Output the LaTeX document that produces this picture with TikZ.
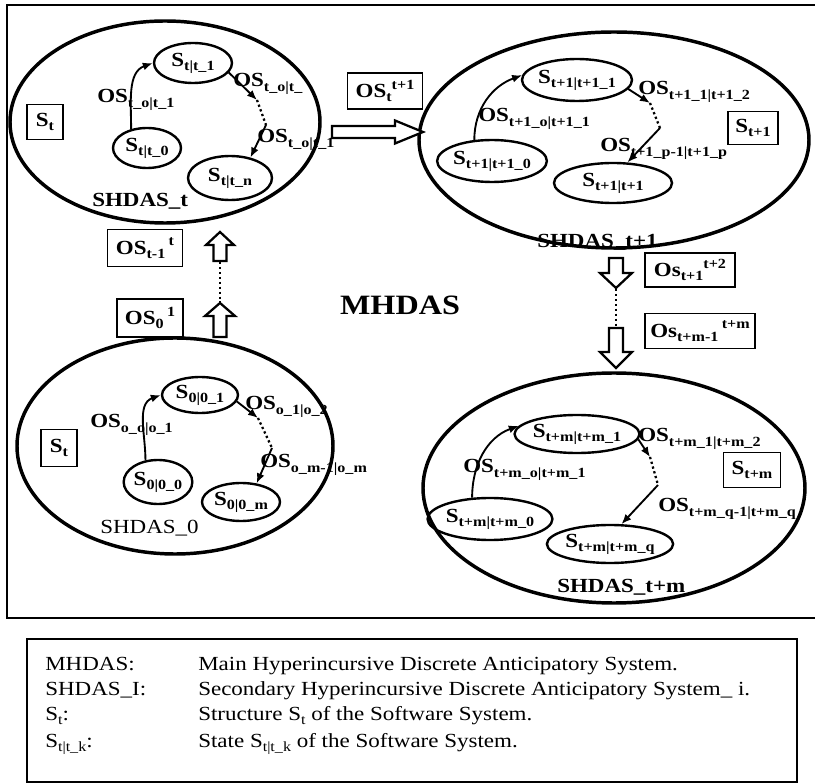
\documentclass[tikz,border=0pt]{standalone}
\usepackage{fontspec}
\setmainfont{Liberation Serif}[FakeStretch=1.15]
\usetikzlibrary{shapes.geometric,arrows.meta}

\newcommand{\lo}[1]{\raisebox{-0.45ex}{\fontsize{10.5}{10.5}\selectfont #1}}
\newcommand{\hi}[1]{\raisebox{0.95ex}{\fontsize{10.5}{10.5}\selectfont #1}}

\begin{document}
\begin{tikzpicture}[
  x=0.75pt, y=-0.75pt,
  font=\fontsize{15}{18}\selectfont\bfseries,
  sys/.style={draw, ellipse, line width=2.6pt, inner sep=0pt},
  st/.style={draw, ellipse, line width=1.8pt, inner sep=0pt},
  tag/.style={draw, line width=1pt, inner sep=0pt},
  lbl/.style={anchor=base west, inner sep=0pt},
  link/.style={line width=1.4pt, -{Latex[length=7.5pt,width=6pt]}},
  dotline/.style={line width=1.7pt, dotted},
  hollow/.style={draw, line width=1.7pt, fill=white, line join=miter},
  legend/.style={anchor=base west, inner sep=0pt, font=\fontsize{15}{19}\selectfont},
]
  \useasboundingbox (0,0) rectangle (815,784);
  \draw[line width=1.3pt] (815,5) -- (7,5) -- (7,618) -- (815,618);

  % SHDAS_t
  \node[sys, minimum width=232.5pt, minimum height=151.5pt] (sA) at (165,122) {};
  \node[tag, minimum width=27pt, minimum height=26pt] (tA) at (45,122) {S\lo{t}};
  \node[st, minimum width=58.5pt, minimum height=30pt] (a1) at (193,63) {S\lo{t|t\_1}};
  \node[st, minimum width=51pt, minimum height=30pt] (a0) at (147,148) {S\lo{t|t\_0}};
  \node[st, minimum width=63pt, minimum height=33pt] (an) at (230,178) {S\lo{t|t\_n}};
  \coordinate (ad1) at (257,100);
  \coordinate (ad2) at (266,125);
  \draw[link] (a0.130) to[out=90,in=200] (a1.west);
  \draw[link] (a1.-15) -- (ad1);
  \draw[dotline] (ad1) -- (ad2);
  \draw[link] (ad2) -- (an.45);
  \node[lbl] (la1) at (97,103) {OS\lo{t\_o|t\_1}};
  \node[lbl] (la2) at (233,87) {OS\lo{t\_o|t\_}};
  \node[lbl] (la3) at (257,143) {OS\lo{t\_o|t\_1}};
  \node[lbl] (nA) at (92,207) {SHDAS\_t};

  % SHDAS_t+1
  \node[sys, minimum width=292.5pt, minimum height=162pt] (sB) at (614,140) {};
  \node[tag, minimum width=37.5pt, minimum height=25pt] (tB) at (753,128) {S\lo{t+1}};
  \node[st, minimum width=82.5pt, minimum height=31.5pt] (b1) at (577,80) {S\lo{t+1|t+1\_1}};
  \node[st, minimum width=76.5pt, minimum height=31.5pt] (b0) at (492,161) {S\lo{t+1|t+1\_0}};
  \node[st, minimum width=88.5pt, minimum height=30pt] (bn) at (613,183) {S\lo{t+1|t+1}};
  \coordinate (bd1) at (650,103);
  \coordinate (bd2) at (660,128);
  \draw[link] (b0.130) to[out=90,in=200] (b1.175);
  \draw[link] (b1.-10) -- (bd1);
  \draw[dotline] (bd1) -- (bd2);
  \draw[link] (bd2) -- (bn.55);
  \node[lbl] (lb1) at (478,122) {OS\lo{t+1\_o|t+1\_1}};
  \node[lbl] (lb2) at (638,95) {OS\lo{t+1\_1|t+1\_2}};
  \node[lbl] (lb3) at (600,152) {OS\lo{t+1\_p-1|t+1\_p}};
  \node[lbl] (nB) at (537,248) {SHDAS\_t+1};

  % step t -> t+1
  \node[tag, minimum width=56pt, minimum height=27pt] (oAB) at (385,91) {OS\lo{t}\hi{t+1}};
  \draw[hollow] (332,126) -- (395,126) -- (395,120.5) -- (423,132) -- (395,143.5) -- (395,138) -- (332,138) -- cycle;

  % SHDAS_0
  \node[sys, minimum width=237pt, minimum height=162pt] (sC) at (175,446) {};
  \node[tag, minimum width=27pt, minimum height=27.5pt] (tC) at (59,448) {S\lo{t}};
  \node[st, minimum width=57pt, minimum height=27pt] (c1) at (200,395) {S\lo{0|0\_1}};
  \node[st, minimum width=45pt, minimum height=33pt] (c0) at (158,482) {S\lo{0|0\_0}};
  \node[st, minimum width=58.5pt, minimum height=28.5pt] (cm) at (241,502) {S\lo{0|0\_m}};
  \coordinate (cd1) at (258,418);
  \coordinate (cd2) at (272,448);
  \draw[link] (c0.120) to[out=90,in=200] (c1.west);
  \draw[link] (c1.-10) -- (cd1);
  \draw[dotline] (cd1) -- (cd2);
  \draw[link] (cd2) -- (cm.50);
  \node[lbl] (lc1) at (90,428) {OS\lo{o\_o|o\_1}};
  \node[lbl] (lc2) at (245,410) {OS\lo{o\_1|o\_2}};
  \node[lbl] (lc3) at (260,468) {OS\lo{o\_m-1|o\_m}};
  \node[lbl, font=\fontsize{15}{18}\selectfont\mdseries] (nC) at (100,533) {SHDAS\_0};

  % steps 0 -> t
  \node[tag, minimum width=56pt, minimum height=28pt] (oC0) at (145,248) {OS\lo{t-1}\,\hi{t}};
  \node[tag, minimum width=49.5pt, minimum height=28.5pt] (oC1) at (150,318) {OS\lo{0}\,\hi{1}};
  \draw[hollow] (213.5,261) -- (213.5,245) -- (206,245) -- (220,232) -- (234,245) -- (226.5,245) -- (226.5,261) -- cycle;
  \draw[dotline, line width=2pt] (220,262) -- (220,302);
  \draw[hollow] (213.5,337) -- (213.5,316) -- (205,316) -- (220,303) -- (235,316) -- (226.5,316) -- (226.5,337) -- cycle;

  \node[font=\fontsize{21}{24}\selectfont\bfseries, inner sep=0pt] (main) at (400,305) {MHDAS};

  % steps t+1 -> t+m
  \node[tag, minimum width=67.5pt, minimum height=25.5pt] (oD0) at (690,270) {Os\lo{t+1}\hi{t+2}};
  \node[tag, minimum width=82.5pt, minimum height=26pt] (oD1) at (700,331) {Os\lo{t+m-1}\,\hi{t+m}};
  \draw[hollow] (609,258) -- (609,273) -- (600,273) -- (616,288) -- (632,273) -- (623,273) -- (623,258) -- cycle;
  \draw[dotline, line width=2pt] (616,289) -- (616,327);
  \draw[hollow] (609,328) -- (609,352) -- (600,352) -- (616,368) -- (632,352) -- (623,352) -- (623,328) -- cycle;

  % SHDAS_t+m
  \node[sys, minimum width=286.5pt, minimum height=172.5pt] (sD) at (614,488) {};
  \node[tag, minimum width=42.5pt, minimum height=26pt] (tD) at (752,470) {S\lo{t+m}};
  \node[st, minimum width=84pt, minimum height=28.5pt] (d1) at (577,434) {S\lo{t+m|t+m\_1}};
  \node[st, minimum width=78pt, minimum height=31.5pt] (d0) at (490,519) {S\lo{t+m|t+m\_0}};
  \node[st, minimum width=79.5pt, minimum height=28.5pt] (dq) at (610,544) {S\lo{t+m|t+m\_q}};
  \coordinate (dd1) at (650,457);
  \coordinate (dd2) at (658,485);
  \draw[link] (d0.130) to[out=90,in=200] (d1.172);
  \draw[link] (d1.-5) -- (dd1);
  \draw[dotline] (dd1) -- (dd2);
  \draw[link] (dd2) -- (dq.60);
  \node[lbl] (ld1) at (463,473) {OS\lo{t+m\_o|t+m\_1}};
  \node[lbl] (ld2) at (638,442) {OS\lo{t+m\_1|t+m\_2}};
  \node[lbl] (ld3) at (658,512) {OS\lo{t+m\_q-1|t+m\_q}};
  \node[lbl] (nD) at (557,593) {SHDAS\_t+m};

  % legend
  \draw[line width=1.3pt] (27,639) rectangle (797,782);
  \node[legend] (k1) at (45,670) {MHDAS:};
  \node[legend] (k2) at (45,695) {SHDAS\_I:};
  \node[legend] (k3) at (45,720) {S\lo{t}:};
  \node[legend] (k4) at (45,747) {S\lo{t|t\_k}:};
  \node[legend] (v1) at (198,670) {Main Hyperincursive Discrete Anticipatory System.};
  \node[legend] (v2) at (198,695) {Secondary Hyperincursive Discrete Anticipatory System\_ i.};
  \node[legend] (v3) at (198,720) {Structure S\lo{t} of the Software System.};
  \node[legend] (v4) at (198,747) {State S\lo{t|t\_k} of the Software System.};
\end{tikzpicture}
\end{document}
